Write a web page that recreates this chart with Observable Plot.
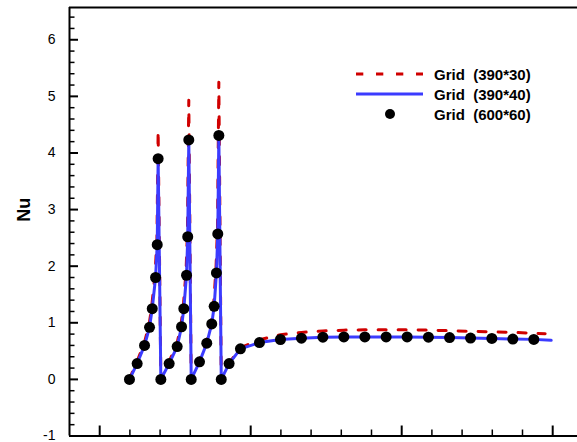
<!DOCTYPE html>
<html><head><meta charset="utf-8">
<script src="https://cdn.jsdelivr.net/npm/d3@7"></script>
<script src="https://cdn.jsdelivr.net/npm/@observablehq/plot@0.6"></script>
<style>
html,body{margin:0;padding:0;background:#fff;overflow:hidden;}
#wrap{position:relative;width:577px;height:442px;}
#legend{position:absolute;left:356px;top:64px;font:bold 15px "Liberation Sans",Arial,sans-serif;color:#000;}
#legend .row{display:flex;align-items:center;height:20px;white-space:pre;}
#legend svg{display:block;margin-right:11px;}
</style></head>
<body><div id="wrap"><div id="chart"></div><div id="legend"></div></div>
<script>
// Grid (600*60) - black dots
const dotX = [0.197,0.248,0.297,0.330,0.348,0.370,0.381,0.387,
              0.405,0.460,0.513,0.542,0.557,0.575,0.583,0.590,
              0.606,0.661,0.709,0.742,0.758,0.773,0.782,0.789,
              0.805,0.857,0.932,1.058,1.197,1.336,1.478,1.617,1.756,1.897,2.036,2.177,2.317,2.456,2.597,2.736,2.875];
const dotY = [0,0.28,0.60,0.92,1.25,1.80,2.38,3.90,
              0,0.28,0.58,0.93,1.25,1.84,2.52,4.23,
              0,0.31,0.64,0.98,1.29,1.88,2.57,4.31,
              0,0.28,0.54,0.65,0.705,0.728,0.745,0.75,0.75,0.75,0.75,0.745,0.738,0.73,0.724,0.713,0.707];
// Grid (390*40) - blue solid line
const blueX = [0.197,0.248,0.297,0.330,0.348,0.370,0.381,0.387,
               0.405,0.460,0.513,0.542,0.557,0.575,0.583,0.590,
               0.606,0.661,0.709,0.742,0.758,0.773,0.782,0.789,
               0.805,0.857,0.932,1.058,1.197,1.336,1.478,1.617,1.756,1.897,2.036,2.177,2.317,2.456,2.597,2.736,2.875,2.99];
const blueY = [0,0.28,0.60,0.92,1.25,1.80,2.38,3.90,
               0,0.28,0.58,0.93,1.25,1.84,2.52,4.23,
               0,0.31,0.64,0.98,1.29,1.88,2.57,4.31,
               0,0.28,0.54,0.65,0.705,0.728,0.745,0.75,0.75,0.75,0.75,0.745,0.738,0.73,0.724,0.713,0.707,0.69];
// Grid (390*30) - red dashed line
const redX = [0.195,0.245,0.294,0.327,0.345,0.367,0.379,0.387,
              0.405,0.457,0.510,0.539,0.554,0.572,0.581,0.590,
              0.606,0.658,0.706,0.739,0.755,0.770,0.780,0.789,
              0.805,0.857,0.932,1.058,1.197,1.336,1.478,1.617,1.756,1.897,2.036,2.177,2.317,2.456,2.597,2.736,2.875,2.95];
const redY = [0,0.30,0.63,0.96,1.30,1.88,2.46,4.40,
              0,0.30,0.61,0.97,1.30,1.92,2.62,4.93,
              0,0.33,0.67,1.02,1.34,1.96,2.68,5.25,
              0,0.29,0.56,0.70,0.79,0.83,0.855,0.87,0.876,0.876,0.876,0.87,0.86,0.85,0.84,0.83,0.816,0.806];

const yMajor = [-1,0,1,2,3,4,5,6];
const yMajorLabels = ["-1","0","1","2","3","4","5","6"];
const yMinor = d3.range(-0.8, 6.5, 0.2).map(v => Math.round(v*10)/10).filter(v => !yMajor.includes(v));
const xMajor = [0,1,2,3];
const xMinor = d3.range(0.2, 3.6, 0.2).map(v => Math.round(v*10)/10).filter(v => !xMajor.includes(v));

const series = [
  {name: "Grid  (390*30)", kind: "red"},
  {name: "Grid  (390*40)", kind: "blue"},
  {name: "Grid  (600*60)", kind: "dot"}
];

const dots = dotX.map((x, i) => ({x, y: dotY[i]}));
const blue = blueX.map((x, i) => ({x, y: blueY[i]}));
const red = redX.map((x, i) => ({x, y: redY[i]}));

const RED = "#d00000", BLUE = "#3b3bff";

const chart = Plot.plot({
  width: 577,
  height: 442,
  marginLeft: 69,
  marginRight: 0,
  marginTop: 7,
  marginBottom: 6.5,
  style: {fontFamily: "'Liberation Sans', Arial, sans-serif", background: "white"},
  x: {domain: [-0.2, 3.6], range: [69, 69 + 3.8*151], label: null},
  y: {domain: [-1, 6.57], label: null},
  marks: [
    Plot.axisY(yMinor, {tickSize: -5.5, strokeWidth: 1.5, tickFormat: () => "", stroke: "black"}),
    Plot.axisY(yMajor, {tickSize: -9, strokeWidth: 2, tickPadding: 23, fontSize: 14,
      tickFormat: d => yMajorLabels[yMajor.indexOf(d)], stroke: "black", fill: "black"}),
    Plot.axisX(xMinor, {tickSize: -6, strokeWidth: 1.5, tickFormat: () => "", stroke: "black"}),
    Plot.axisX(xMajor, {tickSize: -10, strokeWidth: 2, tickFormat: () => "", stroke: "black"}),
    Plot.ruleX([-0.2], {stroke: "black", strokeWidth: 2}),
    Plot.ruleY([-1], {stroke: "black", strokeWidth: 2}),
    Plot.ruleY([6.57], {stroke: "black", strokeWidth: 2}),
    Plot.line(red, {x: "x", y: "y", stroke: RED, strokeWidth: 3, strokeDasharray: "8,12"}),
    Plot.line(blue, {x: "x", y: "y", stroke: BLUE, strokeWidth: 3}),
    Plot.dot(dots, {x: "x", y: "y", r: 5.5, fill: "black", stroke: "none"}),
    Plot.text(["Nu"], {frameAnchor: "left", rotate: -90, dx: -45, fontSize: 18, fontWeight: "bold", fill: "black"})
  ]
});
document.getElementById("chart").appendChild(chart);

const legend = document.getElementById("legend");
for (const s of series) {
  const row = document.createElement("div");
  row.className = "row";
  let sym = "";
  if (s.kind === "red") sym = `<svg width="67" height="20"><line x1="0" y1="10" x2="67" y2="10" stroke="${RED}" stroke-width="3" stroke-dasharray="7.3,12.7"/></svg>`;
  else if (s.kind === "blue") sym = `<svg width="67" height="20"><line x1="0" y1="10" x2="67" y2="10" stroke="${BLUE}" stroke-width="3"/></svg>`;
  else sym = `<svg width="67" height="20"><circle cx="34" cy="10" r="5" fill="black"/></svg>`;
  row.innerHTML = sym + `<span>${s.name}</span>`;
  legend.appendChild(row);
}
</script>
</body></html>
